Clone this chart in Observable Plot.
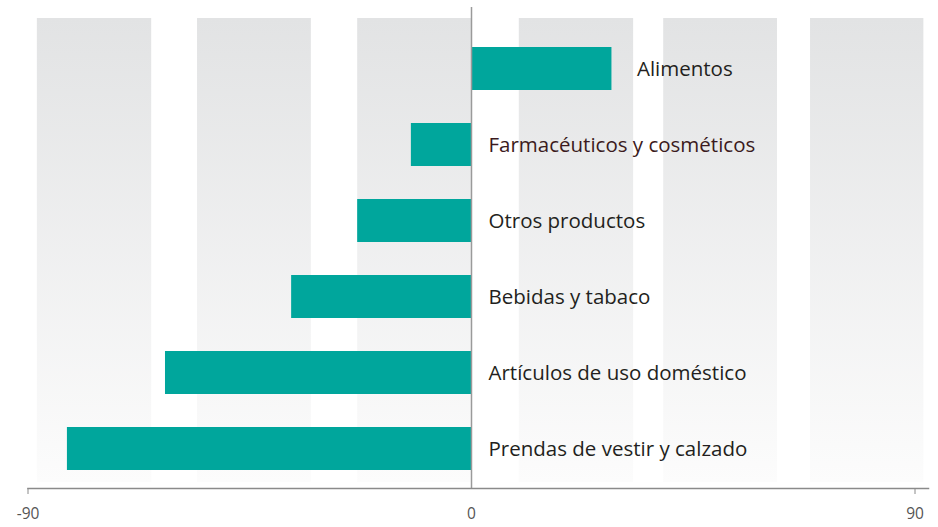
<!DOCTYPE html>
<html>
<head>
<meta charset="utf-8">
<script src="https://cdn.jsdelivr.net/npm/d3@7"></script>
<script src="https://cdn.jsdelivr.net/npm/@observablehq/plot@0.6"></script>
<style>
  html, body { margin: 0; padding: 0; background: #fff; }
  svg { display: block; }
</style>
</head>
<body>
<div id="chart"></div>
<script>
const categories = [
  "Alimentos",
  "Farmacéuticos y cosméticos",
  "Otros productos",
  "Bebidas y tabaco",
  "Artículos de uso doméstico",
  "Prendas de vestir y calzado"
];
const values = [28.5, -12.2, -23.1, -36.5, -62.1, -82.0];
const labelColors = ["#231f20", "#3b1a20", "#231f20", "#231f20", "#231f20", "#231f20"];
const tickValues = [-90, 0, 90];
const bandStarts = [-88.1, -55.6, -23.1, 9.7, 39.0, 68.8];
const bandEnds   = [-64.9, -32.5, 0, 32.9, 62.1, 91.8];

const data = categories.map((c, i) => ({category: c, value: values[i], color: labelColors[i]}));
const bands = bandStarts.map((s, i) => ({x1: s, x2: bandEnds[i]}));

const svg = Plot.plot({
  width: 938,
  height: 527,
  marginTop: 28,
  marginBottom: 39,
  marginLeft: 27.5,
  marginRight: 10,
  style: {fontFamily: "'Open Sans', sans-serif", background: "#fff"},
  x: {domain: [-90, 90], range: [27.5, 914.5], axis: null},
  y: {domain: categories, paddingInner: 0.44, paddingOuter: 0.22, axis: null},
  marks: [
    Plot.rectX(bands, {x1: "x1", x2: "x2", fill: "url(#bgGrad)", insetTop: -10, insetBottom: 6}),
    Plot.barX(data, {x: "value", y: "category", fill: "#00a69c"}),
    Plot.ruleX([0], {stroke: "#9a9a9a", strokeWidth: 1.5, insetTop: -21}),
    Plot.frame({anchor: "bottom", stroke: "#8a8a8a", strokeWidth: 1.5}),
    Plot.axisX({ticks: [-90, 90], tickSize: 6, tickFormat: () => "", stroke: "#8a8a8a"}),
    Plot.axisX({ticks: tickValues, tickSize: 0, tickPadding: 19, fontSize: 15.5, fill: "#555", tickFormat: d => String(d)}),
    Plot.text(data.filter(d => d.value > 0), {x: "value", y: "category", text: "category", textAnchor: "start", dx: 25, fontSize: 20.5, fill: "color"}),
    Plot.text(data.filter(d => d.value <= 0), {x: () => 0, y: "category", text: "category", textAnchor: "start", dx: 17, fontSize: 20.5, fill: "color"})
  ]
});

const defs = d3.select(svg).insert("defs", ":first-child");
const grad = defs.append("linearGradient")
  .attr("id", "bgGrad")
  .attr("gradientUnits", "userSpaceOnUse")
  .attr("x1", 0).attr("y1", 18).attr("x2", 0).attr("y2", 482);
grad.append("stop").attr("offset", "0%").attr("stop-color", "#e2e3e4");
grad.append("stop").attr("offset", "100%").attr("stop-color", "#fcfcfc");

document.getElementById("chart").appendChild(svg);
</script>
</body>
</html>
